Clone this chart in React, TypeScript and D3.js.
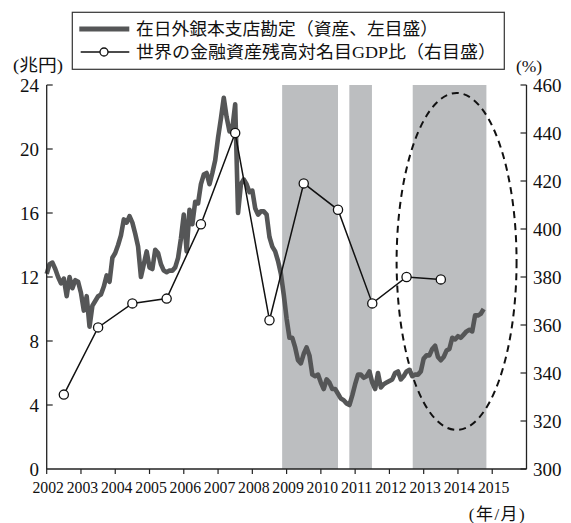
import React from "react";
import * as d3 from "d3";

// 在日外銀本支店勘定（資産、兆円）: monthly, starting Jan 2002
const branchStartYear = 2002;
const branchValues = [
  12.2, 12.8, 12.9, 12.5, 12.0, 11.6, 11.9, 10.8, 12.0, 11.3, 11.8, 11.7,
  11.0, 9.9, 10.8, 8.9, 10.2, 10.5, 10.8, 10.9, 11.4, 12.1, 11.7, 13.2,
  13.5, 14.0, 14.6, 15.6, 15.4, 15.8, 15.4, 14.7, 13.9, 12.0, 12.8, 13.6,
  12.6, 12.5, 13.7, 13.5, 12.8, 12.4, 12.3, 12.4, 12.4, 12.6, 13.2, 14.4,
  15.9, 13.6, 16.2, 15.3, 16.7, 16.6, 17.8, 18.4, 18.5, 17.8, 18.5, 19.3,
  20.7, 21.9, 23.2, 22.0, 21.1, 21.3, 22.8, 16.0, 17.8, 18.1, 17.8, 17.3,
  17.4, 16.3, 15.9, 16.1, 16.1, 15.9, 14.5, 13.9, 13.6, 13.0, 12.2, 10.9,
  9.4, 8.2, 8.2, 7.6, 6.8, 6.6, 7.2, 7.6, 7.1, 5.9, 5.8, 5.9,
  5.4, 5.0, 5.6, 5.4, 5.0, 5.0, 4.7, 4.4, 4.3, 4.1, 4.0, 4.6,
  5.3, 5.9, 5.9, 5.7, 5.8, 6.1, 5.4, 5.0, 6.0, 5.1, 5.3, 5.4,
  5.5, 5.6, 6.0, 6.1, 5.6, 5.8, 6.1, 6.2, 5.8, 5.9, 5.9, 6.1,
  6.9, 7.1, 7.1, 7.5, 7.7, 7.0, 6.8, 7.0, 7.4, 7.5, 8.2, 8.1,
  8.3, 8.2, 8.4, 8.6, 8.7, 8.6, 9.6, 9.6, 9.7, 10.0,
];

// 世界の金融資産残高対名目GDP比（%）: annual, plotted at mid-year
const ratioYears = [2002, 2003, 2004, 2005, 2006, 2007, 2008, 2009, 2010, 2011, 2012, 2013];
const ratioValues = [331, 359, 369, 371, 402, 440, 362, 419, 408, 369, 380, 379];

// Shaded periods (decimal years)
const bandStarts = [2008.87, 2010.83, 2012.68];
const bandEnds = [2010.5, 2011.49, 2014.83];

// Axis ticks
const yearTicks = [2002, 2003, 2004, 2005, 2006, 2007, 2008, 2009, 2010, 2011, 2012, 2013, 2014, 2015];
const leftTicks = [0, 4, 8, 12, 16, 20, 24];
const rightTicks = [300, 320, 340, 360, 380, 400, 420, 440, 460];

// Highlight ellipse (centre in years / 兆円, radii in years / 兆円)
const ellipseCenter = [2013.96, 12.97];
const ellipseRadii = [1.75, 10.53];

const legendLabels = ["在日外銀本支店勘定（資産、左目盛）", "世界の金融資産残高対名目GDP比（右目盛）"];

const W = 571;
const H = 523;
const serif = "'Liberation Serif', 'Noto Sans CJK JP', serif";
const axisColor = "#222";
const thickColor = "#555657";
const bandColor = "#bcbec0";

export default function App() {
  const x = d3.scaleLinear().domain([2002, 2016]).range([46.7, 526.5]);
  const yL = d3.scaleLinear().domain([0, 24]).range([469, 85]);
  const yR = d3.scaleLinear().domain([300, 460]).range([469, 85]);

  const branchLine = d3
    .line<number>()
    .x((_, i) => x(branchStartYear + i / 12))
    .y((d) => yL(d))
    .curve(d3.curveLinear);

  const ratioPts = ratioYears.map((yr, i) => [x(yr + 0.5), yR(ratioValues[i])] as [number, number]);
  const ratioLine = d3.line()(ratioPts) || "";

  const [ecx, ecy] = ellipseCenter;
  const erx = x(ecx + ellipseRadii[0]) - x(ecx);
  const ery = yL(0) - yL(ellipseRadii[1]);

  const top = yL(24);
  const bottom = yL(0);
  const left = x(2002);
  const right = x(2016);

  return (
    <svg
      width={W}
      height={H}
      viewBox={`0 0 ${W} ${H}`}
      style={{ position: "absolute", left: 0, top: 0, background: "#fff" }}
    >
      {/* shaded periods */}
      {bandStarts.map((s, i) => (
        <rect
          key={i}
          x={x(s)}
          y={top}
          width={x(bandEnds[i]) - x(s)}
          height={bottom - top}
          fill={bandColor}
        />
      ))}

      {/* highlight ellipse */}
      <ellipse
        cx={x(ecx)}
        cy={yL(ecy)}
        rx={erx}
        ry={ery}
        fill="none"
        stroke="#111"
        strokeWidth={2}
        strokeDasharray="7 5"
      />

      {/* branch account series */}
      <path
        d={branchLine(branchValues) || ""}
        fill="none"
        stroke={thickColor}
        strokeWidth={4.6}
        strokeLinejoin="round"
      />

      {/* ratio series */}
      <path d={ratioLine} fill="none" stroke="#111" strokeWidth={1.5} />
      {ratioPts.map(([cx, cy], i) => (
        <circle key={i} cx={cx} cy={cy} r={4.6} fill="#fff" stroke="#111" strokeWidth={1.3} />
      ))}

      {/* left axis */}
      <line x1={left} x2={left} y1={top} y2={bottom} stroke={axisColor} strokeWidth={1.3} />
      {leftTicks.map((t) => (
        <g key={t}>
          {t !== 0 && (
            <line x1={left} x2={left + 6} y1={yL(t)} y2={yL(t)} stroke={axisColor} strokeWidth={1.2} />
          )}
          <text
            x={39}
            y={yL(t)}
            dy="0.35em"
            textAnchor="end"
            fontFamily={serif}
            fontSize={19}
            fill="#111"
          >
            {t}
          </text>
        </g>
      ))}

      {/* right axis */}
      <line x1={right} x2={right} y1={top} y2={bottom} stroke={axisColor} strokeWidth={1.3} />
      {rightTicks.map((t) => (
        <g key={t}>
          <line x1={right - 6} x2={right} y1={yR(t)} y2={yR(t)} stroke={axisColor} strokeWidth={1.2} />
          <text
            x={533}
            y={yR(t)}
            dy="0.35em"
            textAnchor="start"
            fontFamily={serif}
            fontSize={19}
            fill="#111"
          >
            {t}
          </text>
        </g>
      ))}

      {/* bottom axis */}
      <line x1={left} x2={right} y1={bottom} y2={bottom} stroke={axisColor} strokeWidth={1.3} />
      {yearTicks.map((yr) => (
        <g key={yr}>
          <line x1={x(yr)} x2={x(yr)} y1={bottom} y2={bottom + 5} stroke={axisColor} strokeWidth={1.2} />
          <text
            x={x(yr) + 1.5}
            y={493}
            textAnchor="middle"
            fontFamily={serif}
            fontSize={17.5}
            textLength={31.5}
            lengthAdjust="spacingAndGlyphs"
            fill="#111"
          >
            {yr}
          </text>
        </g>
      ))}

      {/* unit labels */}
      <text
        x={38}
        y={71}
        textAnchor="middle"
        fontFamily={serif}
        fontSize={16.5}
        textLength={50}
        lengthAdjust="spacingAndGlyphs"
        fill="#111"
      >
        (兆円)
      </text>
      <text x={529} y={72} textAnchor="middle" fontFamily={serif} fontSize={17.5} fill="#111">
        (%)
      </text>
      <text
        x={497.5}
        y={514}
        dy="0.35em"
        textAnchor="middle"
        fontFamily={serif}
        fontSize={17}
        letterSpacing={1.5}
        fill="#111"
      >
        (年/月)
      </text>

      {/* legend */}
      <rect x={72.3} y={12.3} width={432} height={57} fill="#fff" stroke="#333" strokeWidth={1.2} />
      <line x1={79.3} x2={129.3} y1={29} y2={29} stroke={thickColor} strokeWidth={5} />
      <text
        x={136}
        y={29}
        dominantBaseline="central"
        fontFamily={serif}
        fontSize={17.5}
        textLength={302}
        lengthAdjust="spacingAndGlyphs"
        fill="#111"
      >
        {legendLabels[0]}
      </text>
      <line x1={80.7} x2={129.3} y1={52} y2={52} stroke="#111" strokeWidth={1.5} />
      <circle cx={104} cy={52} r={4} fill="#fff" stroke="#111" strokeWidth={1.3} />
      <text
        x={136}
        y={52}
        dominantBaseline="central"
        fontFamily={serif}
        fontSize={17.5}
        textLength={360}
        lengthAdjust="spacingAndGlyphs"
        fill="#111"
      >
        {legendLabels[1]}
      </text>
    </svg>
  );
}
